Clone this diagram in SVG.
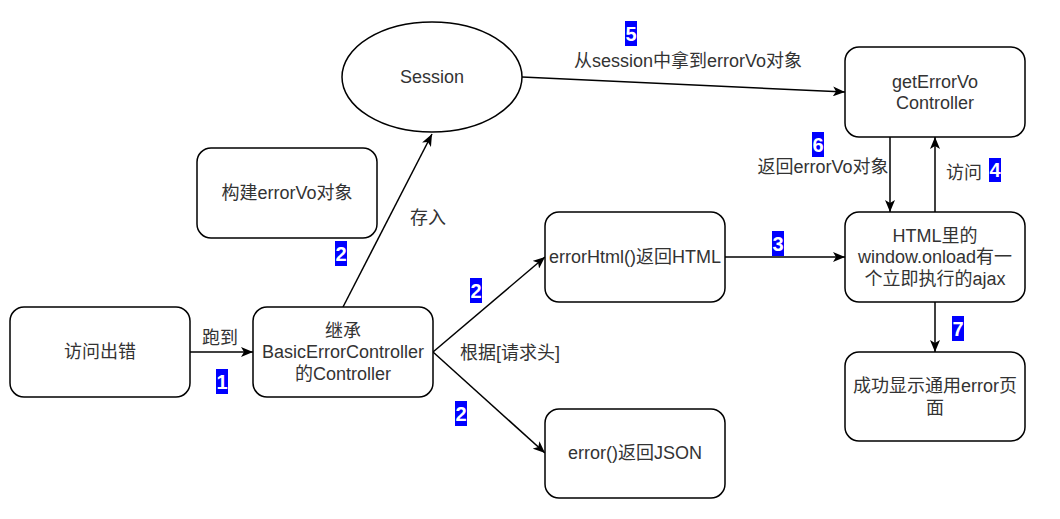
<svg xmlns="http://www.w3.org/2000/svg" width="1060" height="519" viewBox="0 0 1060 519">
<defs>
<marker id="arr" markerUnits="userSpaceOnUse" markerWidth="12" markerHeight="10" viewBox="0 0 12 10" refX="12" refY="5" orient="auto">
<path d="M0,0 L12,5 L0,10 L3,5 z" fill="#000"/>
</marker>
</defs>
<style>
.box{fill:#fff;stroke:#000;stroke-width:1.5}
.t{font-family:"Liberation Sans","Noto Sans CJK SC",sans-serif;font-size:18px;fill:#333;text-anchor:middle}
.e{fill:none;stroke:#000;stroke-width:1.5;marker-end:url(#arr)}
.bb{fill:#0000ff}
.bt{font-family:"Liberation Sans",sans-serif;font-size:20px;font-weight:bold;fill:#fff;text-anchor:middle}
</style>
<rect width="1060" height="519" fill="#fff"/>
<g id="connectors">
<line class="e" x1="190" y1="352" x2="253" y2="352"/>
<line class="e" x1="343" y1="307" x2="432" y2="134"/>
<line class="e" x1="433" y1="352" x2="545" y2="257"/>
<line class="e" x1="433" y1="352" x2="545" y2="453"/>
<line class="e" x1="725" y1="257" x2="845" y2="257"/>
<line class="e" x1="522" y1="77" x2="845" y2="92"/>
<line class="e" x1="890" y1="137" x2="890" y2="212"/>
<line class="e" x1="935" y1="212" x2="935" y2="137"/>
<line class="e" x1="935" y1="302" x2="935" y2="352"/>
<text class="t" x="220" y="344">跑到</text>
<text class="t" x="428" y="224">存入</text>
<text class="t" x="510" y="359">根据[请求头]</text>
<text class="t" x="688" y="67">从session中拿到errorVo对象</text>
<text class="t" x="823" y="173">返回errorVo对象</text>
<text class="t" x="964" y="179">访问</text>
<g id="badges">
<rect class="bb" x="216" y="369" width="12" height="25"/><text class="bt" x="222" y="389">1</text>
<rect class="bb" x="335" y="241" width="12" height="25"/><text class="bt" x="341" y="261">2</text>
<rect class="bb" x="470" y="278" width="12" height="25"/><text class="bt" x="476" y="298">2</text>
<rect class="bb" x="455" y="401" width="12" height="25"/><text class="bt" x="461" y="421">2</text>
<rect class="bb" x="772" y="231" width="12" height="25"/><text class="bt" x="778" y="251">3</text>
<rect class="bb" x="989" y="158" width="12" height="24"/><text class="bt" x="995" y="177">4</text>
<rect class="bb" x="625" y="21" width="12" height="25"/><text class="bt" x="631" y="41">5</text>
<rect class="bb" x="812" y="132" width="12" height="25"/><text class="bt" x="818" y="152">6</text>
<rect class="bb" x="952" y="316" width="12" height="25"/><text class="bt" x="958" y="336">7</text>
</g>
</g>
<g id="n-visit"><rect class="box" x="10" y="307" width="180" height="90" rx="14"/><text class="t" x="100" y="358">访问出错</text></g>
<g id="n-controller"><rect class="box" x="253" y="307" width="180" height="90" rx="14"/><text class="t" x="343" y="337">继承</text><text class="t" x="343" y="358">BasicErrorController</text><text class="t" x="343" y="380">的Controller</text></g>
<g id="n-build"><rect class="box" x="197" y="148" width="180" height="90" rx="14"/><text class="t" x="287" y="199">构建errorVo对象</text></g>
<g id="n-session"><ellipse class="box" cx="432" cy="77" rx="90" ry="55"/><text class="t" x="432" y="83">Session</text></g>
<g id="n-html"><rect class="box" x="545" y="212" width="180" height="90" rx="14"/><text class="t" x="635" y="263">errorHtml()返回HTML</text></g>
<g id="n-json"><rect class="box" x="545" y="409" width="180" height="89" rx="14"/><text class="t" x="635" y="459">error()返回JSON</text></g>
<g id="n-get"><rect class="box" x="845" y="47" width="180" height="90" rx="14"/><text class="t" x="935" y="88">getErrorVo</text><text class="t" x="935" y="109">Controller</text></g>
<g id="n-onload"><rect class="box" x="845" y="212" width="180" height="90" rx="14"/><text class="t" x="935" y="242">HTML里的</text><text class="t" x="935" y="263">window.onload有一</text><text class="t" x="935" y="285">个立即执行的ajax</text></g>
<g id="n-success"><rect class="box" x="845" y="352" width="180" height="89" rx="14"/><text class="t" x="935" y="392">成功显示通用error页</text><text class="t" x="935" y="414">面</text></g>
</svg>
